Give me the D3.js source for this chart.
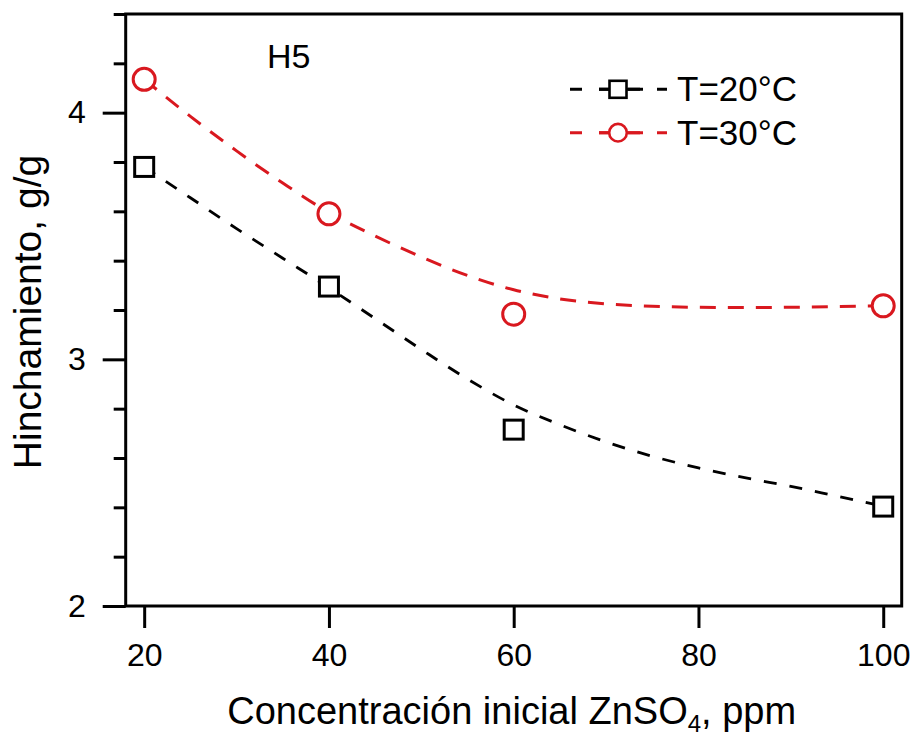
<!DOCTYPE html>
<html>
<head>
<meta charset="utf-8">
<script src="https://cdn.jsdelivr.net/npm/d3@7"></script>
<style>
  html, body { margin: 0; padding: 0; background: #fff; }
  svg { display: block; }
  text { font-family: "Liberation Sans", Arial, sans-serif; fill: #000; }
</style>
</head>
<body>
<svg id="chart" width="912" height="740"></svg>
<script>
// ---- data ----
const concentrations = [20, 40, 60, 100];
const swellingT20 = [3.78, 3.295, 2.715, 2.403];
const swellingT30 = [4.135, 3.59, 3.183, 3.217];

// fitted (dashed) curves
const fitX   = [20, 25, 30, 35, 40, 45, 50, 55, 60, 65, 70, 75, 80, 85, 90, 95, 100];
const fitT20 = [3.78, 3.655, 3.53, 3.41, 3.29, 3.165, 3.04, 2.92, 2.815, 2.735, 2.665, 2.607, 2.56, 2.52, 2.485, 2.445, 2.405];
const fitT30 = [4.135, 3.985, 3.845, 3.715, 3.595, 3.50, 3.415, 3.34, 3.282, 3.245, 3.225, 3.215, 3.211, 3.21, 3.211, 3.214, 3.217];

const xTickValues = [20, 40, 60, 80, 100];
const yMajorTicks = [2, 3, 4];
const yMinorTicks = [2.2, 2.4, 2.6, 2.8, 3.2, 3.4, 3.6, 3.8, 4.2, 4.4];
const seriesNames = ["T=20°C", "T=30°C"];
const panelLabel = "H5";
const xTitle = ["Concentración inicial ZnSO", "4", ", ppm"];
const yTitle = "Hinchamiento, g/g";

// ---- layout ----
const svg = d3.select("#chart");
const plotLeft = 125.7, plotRight = 901.7, plotTop = 14, plotBottom = 606;
const x = d3.scaleLinear().domain([18, 102]).range([plotLeft, plotRight]);
const y = d3.scaleLinear().domain([2, 4.4]).range([plotBottom, plotTop]);
const RED = "#d9181f";

// axes
const gx = svg.append("g").attr("transform", `translate(0,${plotBottom})`)
  .call(d3.axisBottom(x).tickValues(xTickValues).tickSize(22).tickSizeOuter(0).tickPadding(15).tickFormat(d3.format("d")));
const gy = svg.append("g").attr("transform", `translate(${plotLeft},0)`)
  .call(d3.axisLeft(y).tickValues(yMajorTicks).tickSize(23).tickSizeOuter(0).tickPadding(17).tickFormat(d3.format("d")));
const gym = svg.append("g").attr("transform", `translate(${plotLeft},0)`)
  .call(d3.axisLeft(y).tickValues(yMinorTicks).tickSize(12).tickSizeOuter(0).tickFormat(""));
[gx, gy, gym].forEach(g => {
  g.select(".domain").remove();
  g.selectAll(".tick line").attr("stroke", "#000").attr("stroke-width", 3);
  g.selectAll(".tick text").style("font-size", "32px").attr("fill", "#000");
});

// frame
svg.append("rect")
  .attr("x", plotLeft).attr("y", plotTop)
  .attr("width", plotRight - plotLeft).attr("height", plotBottom - plotTop)
  .attr("fill", "none").attr("stroke", "#000").attr("stroke-width", 3);

// fitted curves
const fitLine = d3.line().x(d => x(d[0])).y(d => y(d[1])).curve(d3.curveMonotoneX);
svg.append("path")
  .datum(fitX.map((v, i) => [v, fitT20[i]]))
  .attr("d", fitLine).attr("fill", "none")
  .attr("stroke", "#000").attr("stroke-width", 2.8).attr("stroke-dasharray", "13,13");
svg.append("path")
  .datum(fitX.map((v, i) => [v, fitT30[i]]))
  .attr("d", fitLine).attr("fill", "none")
  .attr("stroke", RED).attr("stroke-width", 3).attr("stroke-dasharray", "16,12");

// markers
svg.append("g").selectAll("rect")
  .data(concentrations.map((c, i) => [c, swellingT20[i]]))
  .join("rect")
  .attr("x", d => x(d[0]) - 9.5).attr("y", d => y(d[1]) - 9.5)
  .attr("width", 19).attr("height", 19)
  .attr("fill", "#fff").attr("stroke", "#000").attr("stroke-width", 3);
svg.append("g").selectAll("circle")
  .data(concentrations.map((c, i) => [c, swellingT30[i]]))
  .join("circle")
  .attr("cx", d => x(d[0])).attr("cy", d => y(d[1])).attr("r", 11)
  .attr("fill", "#fff").attr("stroke", RED).attr("stroke-width", 3);

// panel label
svg.append("text").attr("x", 267).attr("y", 68).style("font-size", "34px").text(panelLabel);

// legend
const legend = svg.append("g");
const rows = [
  { name: seriesNames[0], color: "#000", y: 89.3, shape: "square", dash: "12,17" },
  { name: seriesNames[1], color: RED, y: 132.7, shape: "circle", dash: "12,17" }
];
rows.forEach(r => {
  legend.append("line").attr("x1", 570).attr("x2", 667).attr("y1", r.y).attr("y2", r.y)
    .attr("stroke", r.color).attr("stroke-width", 3).attr("stroke-dasharray", r.dash);
  legend.append("line").attr("x1", 599).attr("x2", 643).attr("y1", r.y).attr("y2", r.y)
    .attr("stroke", r.color).attr("stroke-width", 3);
  if (r.shape === "square") {
    legend.append("rect").attr("x", 618 - 8.5).attr("y", r.y - 8.5).attr("width", 17).attr("height", 17)
      .attr("fill", "#fff").attr("stroke", r.color).attr("stroke-width", 2.6);
  } else {
    legend.append("circle").attr("cx", 618).attr("cy", r.y).attr("r", 8.8)
      .attr("fill", "#fff").attr("stroke", r.color).attr("stroke-width", 2.6);
  }
  legend.append("text").attr("x", 677).attr("y", r.y + 11.8).style("font-size", "35px").text(r.name);
});

// axis titles
const xt = svg.append("text").attr("x", (plotLeft + plotRight) / 2 - 2).attr("y", 724)
  .attr("text-anchor", "middle").style("font-size", "38px");
xt.append("tspan").text(xTitle[0]);
xt.append("tspan").attr("dy", 8).style("font-size", "24px").text(xTitle[1]);
xt.append("tspan").attr("dy", -8).text(xTitle[2]);

svg.append("text")
  .attr("transform", `translate(41,${(plotTop + plotBottom) / 2 + 2}) rotate(-90)`)
  .attr("text-anchor", "middle").style("font-size", "39px").text(yTitle);
</script>
</body>
</html>
